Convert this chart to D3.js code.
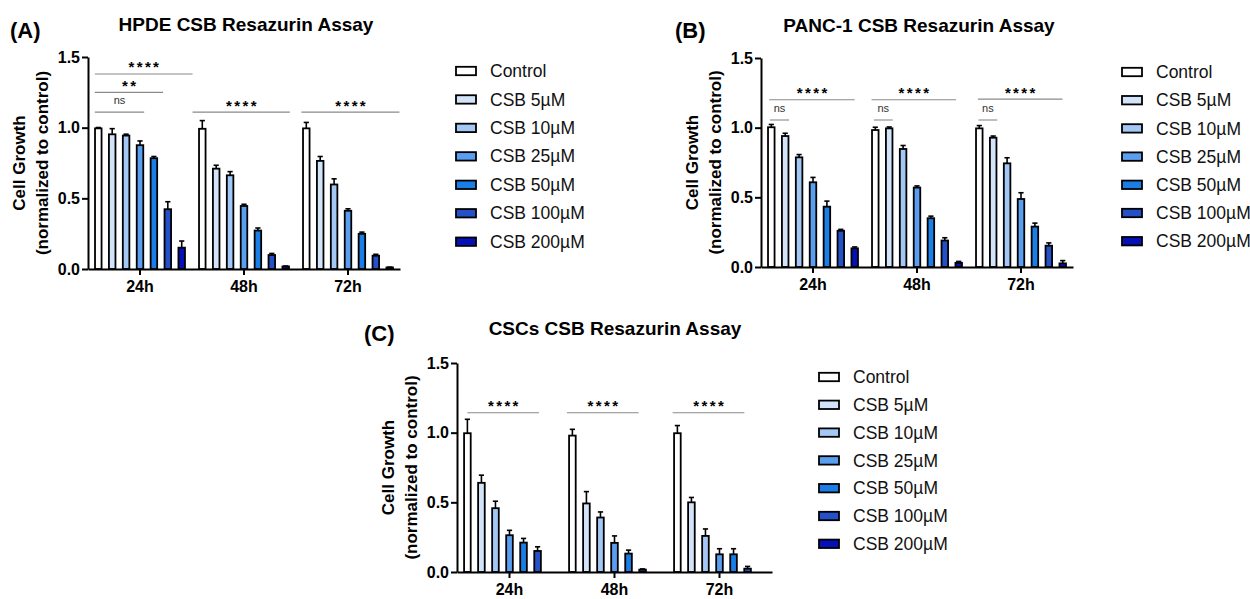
<!DOCTYPE html>
<html>
<head>
<meta charset="utf-8">
<script src="https://cdn.jsdelivr.net/npm/d3@7"></script>
<style>
  body { margin: 0; background: #fff; }
  svg { font-family: 'Liberation Sans', Arial, sans-serif; }
</style>
</head>
<body>
<svg id="chart" width="1250" height="599"></svg>
<script>
// time points and treatments
var timepoints = ['24h', '48h', '72h']
var treatments = ['Control', 'CSB 5µM', 'CSB 10µM', 'CSB 25µM', 'CSB 50µM', 'CSB 100µM', 'CSB 200µM']
var palette = ['#ffffff', '#d3e4fa', '#a3c8f6', '#5a9ef0', '#1b7ee6', '#2451c8', '#0511b6']

// HPDE (A) - mean and SEM per timepoint, one value per treatment
var hpdeMeans = [
  [0.995, 0.953, 0.944, 0.876, 0.784, 0.423, 0.151],
  [0.992, 0.71, 0.663, 0.446, 0.272, 0.099, 0.018],
  [0.995, 0.765, 0.598, 0.412, 0.249, 0.094, 0.011]
]
var hpdeErrors = [
  [0.006, 0.04, 0.01, 0.03, 0.012, 0.053, 0.047],
  [0.058, 0.024, 0.026, 0.012, 0.018, 0.011, 0.003],
  [0.042, 0.031, 0.04, 0.014, 0.012, 0.01, 0.002]
]

// PANC-1 (B)
var panc1Means = [
  [1.003, 0.94, 0.787, 0.608, 0.433, 0.26, 0.134],
  [0.983, 0.995, 0.847, 0.57, 0.35, 0.19, 0.03],
  [0.995, 0.928, 0.744, 0.488, 0.29, 0.153, 0.026]
]
var panc1Errors = [
  [0.02, 0.02, 0.02, 0.035, 0.04, 0.01, 0.01],
  [0.02, 0.01, 0.025, 0.012, 0.015, 0.02, 0.01],
  [0.02, 0.012, 0.04, 0.045, 0.025, 0.02, 0.02]
]

// CSCs (C) - no 200µM bar in this assay
var cscMeans = [
  [0.996, 0.64, 0.458, 0.264, 0.211, 0.151, null],
  [0.979, 0.492, 0.391, 0.209, 0.132, 0.017, null],
  [0.996, 0.5, 0.259, 0.127, 0.127, 0.024, null]
]
var cscErrors = [
  [0.1, 0.055, 0.05, 0.035, 0.03, 0.03, null],
  [0.045, 0.085, 0.04, 0.05, 0.025, 0.005, null],
  [0.055, 0.035, 0.05, 0.04, 0.04, 0.016, null]
]

// significance brackets: timepoint, span in bar slots, height in data units, label
var hpdeSig = [
  { t: '24h', from: -0.25, to: 3.3, y: 1.11, label: 'ns' },
  { t: '24h', from: -0.25, to: 4.66, y: 1.25, label: '**' },
  { t: '24h', from: -0.25, to: 6.78, y: 1.38, label: '****' },
  { t: '48h', from: -0.7, to: 6.3, y: 1.11, label: '****' },
  { t: '72h', from: -0.35, to: 6.7, y: 1.11, label: '****' }
]
var panc1Sig = [
  { t: '24h', from: -0.1, to: 1.28, y: 1.055, label: 'ns' },
  { t: '24h', from: -0.15, to: 6.0, y: 1.2, label: '****' },
  { t: '48h', from: -0.1, to: 1.25, y: 1.055, label: 'ns' },
  { t: '48h', from: -0.27, to: 5.8, y: 1.2, label: '****' },
  { t: '72h', from: -0.06, to: 1.3, y: 1.055, label: 'ns' },
  { t: '72h', from: -0.1, to: 5.98, y: 1.205, label: '****' }
]
var cscSig = [
  { t: '24h', from: 0, to: 5.1, y: 1.143, label: '****' },
  { t: '48h', from: -0.39, to: 4.72, y: 1.143, label: '****' },
  { t: '72h', from: -0.34, to: 4.77, y: 1.143, label: '****' }
]

var svg = d3.select('#chart')

function drawPanel(p) {
  var x = d3.scaleBand().domain(timepoints).range([p.x0, p.x1])
  var inner = d3
    .scaleBand()
    .domain(d3.range(treatments.length))
    .range([0, x.bandwidth()])
    .paddingInner(0.4)
    .paddingOuter(0.44)
  var y = d3.scaleLinear().domain([0, 1.5]).range([p.y0, p.y1])
  var bw = inner.bandwidth()

  var g = svg.append('g')

  // bars
  var rows = []
  timepoints.forEach((t, ti) => {
    treatments.forEach((tr, i) => {
      if (p.means[ti][i] == null) return
      rows.push({ t: t, i: i, v: p.means[ti][i], e: p.errors[ti][i] })
    })
  })

  var bar = g.selectAll('.bar').data(rows).enter().append('g')

  // error bars (upper only)
  bar
    .append('line')
    .attr('x1', (d) => x(d.t) + inner(d.i) + bw / 2)
    .attr('x2', (d) => x(d.t) + inner(d.i) + bw / 2)
    .attr('y1', (d) => y(d.v))
    .attr('y2', (d) => y(d.v + d.e))
    .attr('stroke', '#000')
    .attr('stroke-width', 1.6)
  bar
    .append('line')
    .attr('x1', (d) => x(d.t) + inner(d.i) + bw / 2 - 2.6)
    .attr('x2', (d) => x(d.t) + inner(d.i) + bw / 2 + 2.6)
    .attr('y1', (d) => y(d.v + d.e))
    .attr('y2', (d) => y(d.v + d.e))
    .attr('stroke', '#000')
    .attr('stroke-width', 1.6)

  bar
    .append('rect')
    .attr('x', (d) => x(d.t) + inner(d.i) + 0.9)
    .attr('width', bw - 1.8)
    .attr('y', (d) => y(d.v))
    .attr('height', (d) => Math.max(0, y(0) - y(d.v)))
    .attr('fill', (d) => palette[d.i])
    .attr('stroke', '#000')
    .attr('stroke-width', 1.8)

  // axes
  var yAxis = g
    .append('g')
    .attr('transform', `translate(${p.x0},0)`)
    .call(
      d3
        .axisLeft(y)
        .tickValues([0, 0.5, 1, 1.5])
        .tickFormat(d3.format('.1f'))
        .tickSize(6)
        .tickSizeOuter(0)
        .tickPadding(2)
    )
  var xAxis = g
    .append('g')
    .attr('transform', `translate(0,${p.y0})`)
    .call(d3.axisBottom(x).tickSize(6).tickSizeOuter(0).tickPadding(6))

  ;[yAxis, xAxis].forEach((a) => {
    a.select('.domain').attr('stroke', '#000').attr('stroke-width', 2)
    a.selectAll('.tick line').attr('stroke', '#000').attr('stroke-width', 2)
    a.selectAll('.tick text')
      .attr('fill', '#000')
      .style('font-size', '16px')
      .style('font-weight', 'bold')
      .style('font-family', "'Liberation Sans', Arial, sans-serif")
  })

  // axis title
  var yMid = (p.y0 + p.y1) / 2
  g.append('text')
    .attr('transform', `translate(${p.x0 - 69},${yMid}) rotate(-90)`)
    .attr('text-anchor', 'middle')
    .attr('dy', '0.35em')
    .style('font-size', '17px')
    .style('font-weight', 'bold')
    .text('Cell Growth')
  g.append('text')
    .attr('transform', `translate(${p.x0 - 46},${yMid}) rotate(-90)`)
    .attr('text-anchor', 'middle')
    .attr('dy', '0.35em')
    .style('font-size', '17px')
    .style('font-weight', 'bold')
    .text('(normalized to control)')

  // significance brackets
  var slotX = (t, s) => x(t) + inner(0) + bw / 2 + s * inner.step()
  var sig = g.selectAll('.sig').data(p.sig).enter().append('g')
  sig
    .append('line')
    .attr('x1', (d) => slotX(d.t, d.from))
    .attr('x2', (d) => slotX(d.t, d.to))
    .attr('y1', (d) => y(d.y))
    .attr('y2', (d) => y(d.y))
    .attr('stroke', '#8a8a8a')
    .attr('stroke-width', 1.1)
  sig
    .append('text')
    .attr('x', (d) => (slotX(d.t, d.from) + slotX(d.t, d.to)) / 2 + (d.label == 'ns' ? 0 : 1.2))
    .attr('y', (d) => y(d.y) + (d.label == 'ns' ? -8 : -1.5))
    .attr('text-anchor', 'middle')
    .style('font-size', (d) => (d.label == 'ns' ? '11px' : '15px'))
    .style('font-weight', (d) => (d.label == 'ns' ? 'normal' : 'bold'))
    .style('letter-spacing', (d) => (d.label == 'ns' ? '0px' : '2.4px'))
    .attr('fill', (d) => (d.label == 'ns' ? '#333' : '#000'))
    .text((d) => d.label)

  // titles
  g.append('text')
    .attr('x', p.titleX)
    .attr('y', p.titleY)
    .attr('text-anchor', 'middle')
    .style('font-size', '19px')
    .style('font-weight', 'bold')
    .text(p.title)
  g.append('text')
    .attr('x', p.labelX)
    .attr('y', p.labelY)
    .style('font-size', '22px')
    .style('font-weight', 'bold')
    .text(p.label)

  // legend
  var leg = g
    .selectAll('.leg')
    .data(treatments)
    .enter()
    .append('g')
    .attr('transform', (d, i) => `translate(${p.legX},${p.legY + i * p.legStep})`)
  leg
    .append('rect')
    .attr('x', 1)
    .attr('y', -4.2)
    .attr('width', 20)
    .attr('height', 8.4)
    .attr('fill', (d, i) => palette[i])
    .attr('stroke', '#000')
    .attr('stroke-width', 1.8)
  leg
    .append('text')
    .attr('x', 35)
    .attr('dy', '0.35em')
    .style('font-size', '17.5px')
    .attr('fill', '#111')
    .text((d) => d)
}

drawPanel({
  means: hpdeMeans, errors: hpdeErrors, sig: hpdeSig,
  x0: 88, x1: 400, y0: 269, y1: 57,
  title: 'HPDE CSB Resazurin Assay', titleX: 246, titleY: 31,
  label: '(A)', labelX: 10, labelY: 38,
  legX: 455, legY: 71, legStep: 28.45
})
drawPanel({
  means: panc1Means, errors: panc1Errors, sig: panc1Sig,
  x0: 761, x1: 1073, y0: 267, y1: 58,
  title: 'PANC-1 CSB Resazurin Assay', titleX: 919, titleY: 32,
  label: '(B)', labelX: 675, labelY: 38,
  legX: 1121, legY: 72, legStep: 28.2
})
drawPanel({
  means: cscMeans, errors: cscErrors, sig: cscSig,
  x0: 457, x1: 772, y0: 572, y1: 363,
  title: 'CSCs CSB Resazurin Assay', titleX: 615, titleY: 335,
  label: '(C)', labelX: 364, labelY: 341,
  legX: 818, legY: 377, legStep: 27.8
})
</script>
</body>
</html>
